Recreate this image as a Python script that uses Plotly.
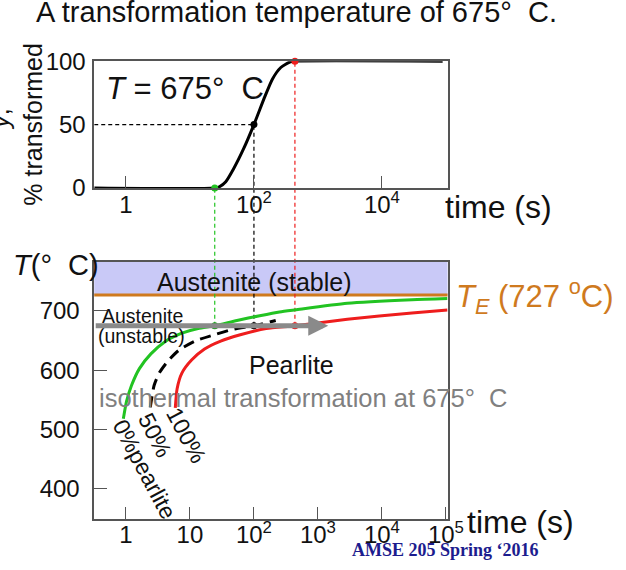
import math
import plotly.graph_objects as go

# ---------------- data ----------------
# top panel: fraction transformed at 675 C
top_time = [0.32, 24.4, 28.8, 36.3, 47.9, 69, 100, 148, 195, 263, 372, 437, 89000]
top_pct = [0, 0, 1, 5, 15, 31, 50, 72, 86, 95, 99.5, 100, 100]

# bottom panel: TTT curves (time in s, temperature in C)
green_time = [0.91, 1.02, 1.22, 1.63, 2.45, 4.17, 7.48, 13.4, 24.4, 54.3, 123, 251, 447, 2880, 29500, 106000]
green_temp = [517.6, 547, 574, 603, 627.5, 649, 662.5, 670.5, 675, 684, 692, 698.4, 702, 713, 719, 721]
black_time = [2.4, 2.75, 3.31, 4.42, 6.6, 11.9, 24.4, 48.4, 100, 219]
black_temp = [537, 574, 595, 614, 633, 649, 660, 669.4, 675, 684]
red_time = [5.9, 6.3, 7.48, 10.6, 16.9, 30.2, 61.2, 155, 437, 2880, 29500, 106000]
red_temp = [536, 568.6, 595, 617, 635.6, 649, 659.7, 670.5, 675, 686, 696.5, 701.6]

iso_temp = 675
eutectoid_temp = 727
marker_time = [24.4, 100, 437]         # 0%, 50%, 100% at 675 C
marker_pct = [0, 50, 100]
arrow_end_time = 1450

top_xticks = [1, 100, 10000]
top_xtext = ["1", "10<sup>2</sup>", "10<sup>4</sup>"]
bot_xticks = [1, 10, 100, 1000, 10000, 100000]
bot_xtext = ["1", "10", "10<sup>2</sup>", "10<sup>3</sup>", "10<sup>4</sup>", "10<sup>5</sup>"]
top_yticks = [0, 50, 100]
bot_yticks = [400, 500, 600, 700]

# ---------------- layout geometry ----------------
W, H = 626, 570
XDOM = [96.7 / W, 459.3 / W]
TOP_DOM = [1 - 182.7 / H, 1 - 49.5 / H]
BOT_DOM = [1 - 530.5 / H, 1 - 260 / H]
XRANGE = [-0.496, 5.026]
TOP_RANGE = [0, 100]
BOT_RANGE = [347.7, 783.3]

GREEN = "#22c322"
RED = "#ee1d1d"
BLACK = "#000000"
ORANGE = "#cf7a1e"
FRAME = "#555555"
FONT = "Liberation Sans"


def px(x):
    return x / W


def py(y):
    return 1 - y / H


def paper_y(val, dom, rng):
    return dom[0] + (val - rng[0]) / (rng[1] - rng[0]) * (dom[1] - dom[0])


fig = go.Figure()

fig.add_trace(go.Scatter(x=top_time, y=top_pct, mode="lines",
                         line=dict(color=BLACK, width=3, shape="spline", smoothing=0.6),
                         xaxis="x", yaxis="y", hoverinfo="skip", cliponaxis=False))
fig.add_trace(go.Scatter(x=marker_time, y=marker_pct, mode="markers",
                         marker=dict(color=[GREEN, BLACK, RED], size=7),
                         xaxis="x", yaxis="y", cliponaxis=False))

fig.add_trace(go.Scatter(x=green_time, y=green_temp, mode="lines",
                         line=dict(color=GREEN, width=3, shape="spline", smoothing=0.6),
                         xaxis="x2", yaxis="y2"))
fig.add_trace(go.Scatter(x=black_time, y=black_temp, mode="lines",
                         line=dict(color=BLACK, width=3, shape="spline", smoothing=0.6,
                                   dash="11px,7px"),
                         xaxis="x2", yaxis="y2"))
fig.add_trace(go.Scatter(x=red_time, y=red_temp, mode="lines",
                         line=dict(color=RED, width=3, shape="spline", smoothing=0.6),
                         xaxis="x2", yaxis="y2"))
fig.add_trace(go.Scatter(x=marker_time, y=[iso_temp] * 3, mode="markers",
                         marker=dict(color=["#1a9a1a", BLACK, RED], size=7),
                         xaxis="x2", yaxis="y2"))

shapes = []
shapes.append(dict(type="rect", xref="x2 domain", yref="y2", x0=0, x1=1,
                   y0=eutectoid_temp, y1=BOT_RANGE[1], fillcolor="#c9c9f7",
                   line=dict(width=0), layer="below"))
shapes.append(dict(type="line", xref="x2 domain", yref="y2", x0=0, x1=1,
                   y0=eutectoid_temp, y1=eutectoid_temp,
                   line=dict(color=ORANGE, width=3), layer="below"))
shapes.append(dict(type="line", xref="x", yref="y", x0=10 ** XRANGE[0], x1=marker_time[1],
                   y0=50, y1=50, line=dict(color=BLACK, width=1.2, dash="4px,3px")))
for t, p, c in zip(marker_time, marker_pct, [GREEN, BLACK, RED]):
    shapes.append(dict(type="line", xref="x", yref="paper", x0=t, x1=t,
                       y0=paper_y(iso_temp, BOT_DOM, BOT_RANGE),
                       y1=paper_y(p, TOP_DOM, TOP_RANGE),
                       line=dict(color=c, width=1.2, dash="4px,3px"), layer="below"))

annotations = []


def txt(text, x, y, size, color="#111111", xanchor="center", angle=0, family=FONT, yanchor="middle"):
    annotations.append(dict(text=text, x=px(x), y=py(y), xref="paper", yref="paper",
                            showarrow=False, xanchor=xanchor, yanchor=yanchor, textangle=angle,
                            font=dict(size=size, color=color, family=family)))


NB = "\u00a0"
txt(f"A transformation temperature of 675°{NB}{NB}C.", 304, -2, 29)
txt(f"<i>T</i> = 675°{NB}{NB}C", 190, 78, 31)
txt("% transformed", 33, 116, 25, angle=-90)
txt("<i>y</i>,", 0, 111, 25, angle=-90)
txt("time (s)", 512, 203, 32)
txt("time (s)", 534, 533, 32)
txt(f"<i>T</i>(°{NB}{NB}C)", 57, 264, 29)
txt("Austenite (stable)", 261, 281, 25)
txt(f"<i>T<sub>E</sub></i> (727 <sup>o</sup>C)", 466, 297, 31, color=ORANGE, xanchor="left")
txt("Austenite", 103, 317, 19.5, xanchor="left")
txt("(unstable)", 99, 338, 19.5, xanchor="left")
txt("Pearlite", 299, 368, 25)
txt(f"isothermal transformation at 675°{NB}{NB}C", 100, 403, 25.5, color="#808080", xanchor="left")
txt("0%pearlite", 148, 478, 23, angle=62)
txt("50%", 159, 442, 23, angle=63)
txt("100%", 191, 442, 23, angle=62)
txt("<b>AMSE 205 Spring \u20182016</b>", 457, 563, 18, color="#1c1c8e", family="Liberation Serif")

annotations.append(dict(text="", xref="x2", yref="y2", axref="x2", ayref="y2",
                        x=math.log10(arrow_end_time), y=iso_temp,
                        ax=XRANGE[0], ay=iso_temp, showarrow=True,
                        arrowhead=2, arrowsize=0.8, arrowwidth=5, arrowcolor="#8a8a8a",
                        standoff=0, startstandoff=0))

axis_common = dict(showline=True, mirror=True, linecolor=FRAME, linewidth=1.5,
                   showgrid=False, zeroline=False,
                   tickfont=dict(size=24, color="#111111", family=FONT))

fig.update_layout(
    width=W, height=H, margin=dict(l=0, r=0, t=0, b=0),
    paper_bgcolor="white", plot_bgcolor="white", showlegend=False,
    xaxis=dict(domain=XDOM, anchor="y", type="log", range=XRANGE,
               tickvals=top_xticks, ticktext=top_xtext, ticks="inside", ticklen=12,
               tickcolor=FRAME, tickwidth=1.2, ticklabelstandoff=-6, **axis_common),
    yaxis=dict(domain=TOP_DOM, anchor="x", range=TOP_RANGE, tickvals=top_yticks,
               ticks="", ticklabelstandoff=2, **axis_common),
    xaxis2=dict(domain=XDOM, anchor="y2", type="log", range=XRANGE,
                tickvals=bot_xticks, ticktext=bot_xtext, ticks="inside", ticklen=13,
                tickcolor=FRAME, tickwidth=1.2, ticklabelstandoff=-7, **axis_common),
    yaxis2=dict(domain=BOT_DOM, anchor="x2", range=BOT_RANGE, tickvals=bot_yticks,
                ticks="inside", ticklen=13, tickcolor=FRAME, tickwidth=1.2,
                ticklabelstandoff=8, **axis_common),
    shapes=shapes, annotations=annotations,
)

fig.write_html("out.html")
